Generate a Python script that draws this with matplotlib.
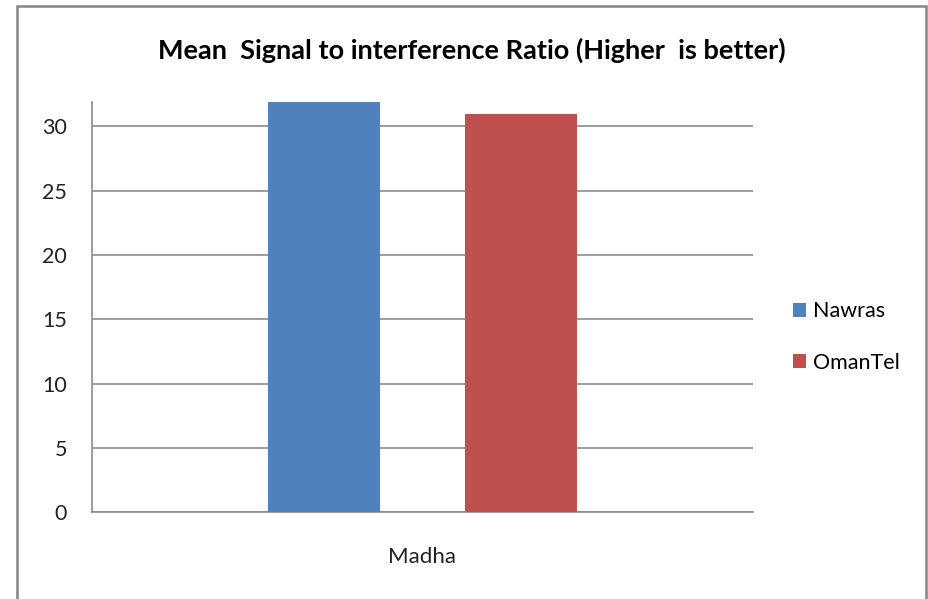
import matplotlib
matplotlib.use("Agg")
import matplotlib.pyplot as plt
import matplotlib.patches as mpatches

# DATOS
categorias = ["Madha"]
operadores = ["Nawras", "OmanTel"]
valores = [32.0, 31.0]
colores = ["#4F81BD", "#C0504D"]
ticks_y = [0, 5, 10, 15, 20, 25, 30]

plt.rcParams["font.family"] = ["Lato", "DejaVu Sans"]

fig = plt.figure(figsize=(9.29, 5.99), dpi=100)
fig.patch.set_facecolor("white")
ax = fig.add_axes([0.0990, 0.1447, 0.7115, 0.685])

# BARRAS
centro = 0.5
desplaz = [-0.149, 0.149]
for nombre, valor, color, d in zip(operadores, valores, colores, desplaz):
    ax.bar(centro + d, valor, width=0.169, color=color, label=nombre, zorder=3)

ax.set_xlim(0, 1)
ax.set_ylim(0, 31.9)
ax.set_yticks(ticks_y)
ax.set_xticks([centro])
ax.set_xticklabels(categorias)

ax.grid(axis="y", color="#8c8c8c", linewidth=1.2, zorder=0)
ax.tick_params(axis="y", length=0, pad=18, labelsize=15.5, labelcolor="#222222")
ax.tick_params(axis="x", length=0, pad=25, labelsize=16, labelcolor="#222222")
for lado in ["top", "right"]:
    ax.spines[lado].set_visible(False)
for lado in ["left", "bottom"]:
    ax.spines[lado].set_color("#8c8c8c")
    ax.spines[lado].set_linewidth(1.2)

# TITULO
fig.text(0.508, 0.9165, "Mean  Signal to interference Ratio (Higher  is better)",
         ha="center", va="center", fontsize=19.5, fontweight="bold", color="black")

# LEYENDA
fig.legend(loc="center left", bbox_to_anchor=(0.8536, 0.4374), frameon=False,
           fontsize=15.5, handlelength=0.6, handleheight=0.6, handletextpad=0.33,
           labelspacing=1.45, borderpad=0, borderaxespad=0)

# BORDE
borde = mpatches.Rectangle((16.5 / 929, -0.05), (925.7 - 16.5) / 929, 1.05 - 5.7 / 599,
                           transform=fig.transFigure, fill=False,
                           edgecolor="#8a8a8a", linewidth=1.9, clip_on=False)
fig.patches.append(borde)

fig.savefig("out.png", dpi=100)
